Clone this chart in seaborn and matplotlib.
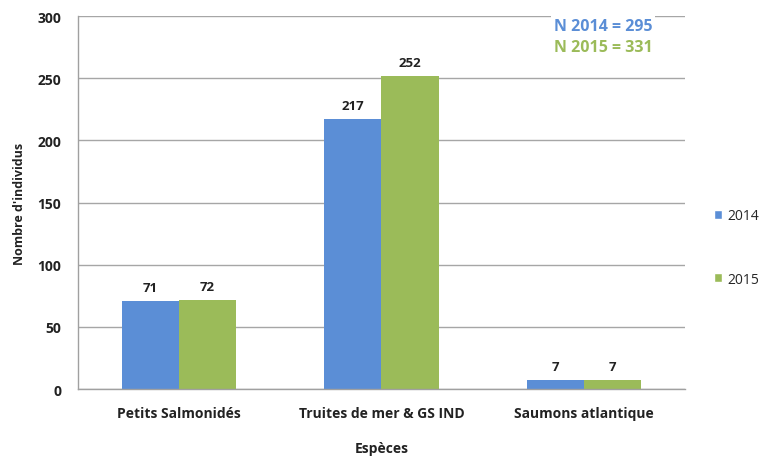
import pandas as pd
import matplotlib.pyplot as plt
import seaborn as sns
from matplotlib.patches import Patch

# données
especes = ['Petits Salmonidés', 'Truites de mer & GS IND', 'Saumons atlantique']
annees = ['2014', '2015']
val_2014 = [71, 217, 7]
val_2015 = [72, 252, 7]
totaux = {'2014': 295, '2015': 331}

couleurs = {'2014': '#5B8ED6', '2015': '#9BBB59'}

df = pd.DataFrame({
    'Espèces': especes * 2,
    'Année': ['2014'] * 3 + ['2015'] * 3,
    'Nombre': val_2014 + val_2015,
})

sns.set_style('white')
plt.rcParams['font.family'] = ['Open Sans', 'DejaVu Sans']

fig = plt.figure(figsize=(7.69, 4.6), dpi=100)
ax = fig.add_axes([0.101, 0.152, 0.79, 0.811])

sns.barplot(data=df, x='Espèces', y='Nombre', hue='Année', hue_order=annees,
            palette=couleurs, width=0.565, gap=0, ax=ax, legend=False,
            saturation=1, linewidth=0)

# étiquettes de valeurs
for cont in ax.containers:
    ax.bar_label(cont, padding=5, fontsize=9.5, fontweight='bold', color='#222222')

# axes
ax.set_ylim(0, 300)
ax.set_yticks(range(0, 301, 50))
ax.set_xlim(-0.5, 2.5)
ax.set_xticks([-0.5, 0.5, 1.5, 2.5])
ax.set_xticklabels([])
ax.set_xticks([0, 1, 2], minor=True)
ax.set_xticklabels(especes, minor=True)
ax.tick_params(axis='x', which='minor', length=0, pad=12, labelsize=10)
ax.tick_params(axis='x', which='major', length=4, color='#a0a0a0', direction='out')
ax.tick_params(axis='y', length=4, color='#a0a0a0', direction='out', labelsize=10, pad=8)
for lab in ax.get_xticklabels(minor=True) + ax.get_yticklabels():
    lab.set_fontweight('bold')
    lab.set_color('#222222')

ax.yaxis.grid(True, color='#a6a6a6', linewidth=1)
ax.set_axisbelow(True)
for s in ['top', 'right']:
    ax.spines[s].set_visible(False)
for s in ['left', 'bottom']:
    ax.spines[s].set_color('#a0a0a0')
    ax.spines[s].set_linewidth(1)

ax.set_xlabel('Espèces', fontsize=10, fontweight='bold', labelpad=15, color='#222222')
ax.set_ylabel("Nombre d'individus", fontsize=9, fontweight='bold', labelpad=8, color='#222222')

# totaux
ax.text(0.784, 0.972, f"N 2014 = {totaux['2014']}", transform=ax.transAxes,
        color=couleurs['2014'], fontsize=11.5, fontweight='bold', va='center',
        bbox=dict(facecolor='white', edgecolor='none', pad=2))
ax.text(0.784, 0.917, f"N 2015 = {totaux['2015']}", transform=ax.transAxes,
        color=couleurs['2015'], fontsize=11.5, fontweight='bold', va='center')

# légende
handles = [Patch(facecolor=couleurs[a], label=a) for a in annees]
fig.legend(handles=handles, loc='center left', bbox_to_anchor=(0.912, 0.46),
           frameon=False, fontsize=10, handlelength=0.6, handleheight=0.6,
           handletextpad=0.4, labelspacing=3.5)

plt.savefig('out.png', dpi=100)
